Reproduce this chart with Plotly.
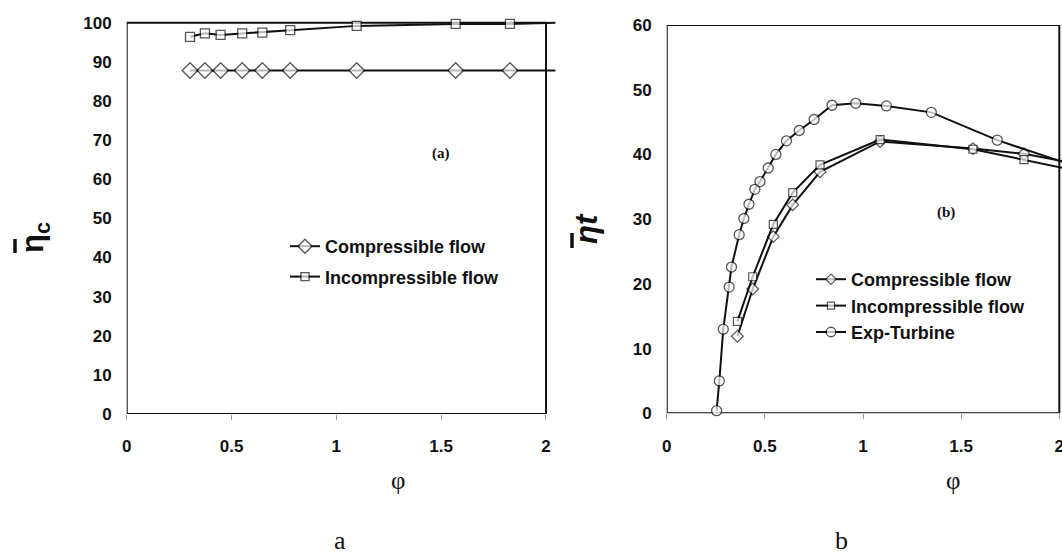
import plotly.graph_objects as go

# ---- Panel (a): compressor efficiency ----
phi_a = [0.302, 0.373, 0.448, 0.551, 0.647, 0.780, 1.097, 1.569, 1.828, 2.1]
eta_c_comp = [87.8, 87.8, 87.8, 87.8, 87.8, 87.8, 87.8, 87.8, 87.8, 87.8]
eta_c_incomp = [96.4, 97.3, 96.9, 97.3, 97.5, 98.1, 99.2, 99.7, 99.7, 100.1]

# ---- Panel (b): turbine efficiency ----
phi_b = [0.360, 0.438, 0.543, 0.642, 0.781, 1.087, 1.56, 1.82, 2.1]
eta_t_comp = [11.9, 19.2, 27.3, 32.2, 37.3, 42.0, 40.9, 40.1, 38.5]
eta_t_incomp = [14.2, 21.1, 29.2, 34.1, 38.4, 42.3, 40.8, 39.2, 37.4]
phi_exp = [0.254, 0.268, 0.288, 0.318, 0.330, 0.369, 0.393, 0.419, 0.449, 0.475,
           0.517, 0.556, 0.610, 0.675, 0.751, 0.842, 0.963, 1.119, 1.348, 1.684, 2.1]
eta_t_exp = [0.4, 5.0, 13.0, 19.5, 22.6, 27.6, 30.1, 32.3, 34.6, 35.8,
             37.9, 40.0, 42.1, 43.7, 45.4, 47.6, 47.9, 47.5, 46.5, 42.2, 38.0]

x_ticks = [0, 0.5, 1, 1.5, 2]
x_tick_text = ["0", "0.5", "1", "1.5", "2"]
ya_ticks = [0, 10, 20, 30, 40, 50, 60, 70, 80, 90, 100]
yb_ticks = [0, 10, 20, 30, 40, 50, 60]

BLACK = "#111111"
FONT = "Liberation Sans"
W, H = 1062, 554


def sizes(n_visible, s):
    # last point is an off-frame continuation, drawn without a marker
    return [s] * n_visible + [0]


fig = go.Figure()

fig.add_trace(go.Scatter(
    x=phi_a, y=eta_c_comp, mode="lines+markers", name="Compressible flow",
    line=dict(color=BLACK, width=2), legendgroup="a1",
    marker=dict(symbol="diamond", size=sizes(len(phi_a) - 1, 12), color="white",
                line=dict(color=BLACK, width=1.3)),
    cliponaxis=False, xaxis="x", yaxis="y", legend="legend"))
fig.add_trace(go.Scatter(
    x=phi_a, y=eta_c_incomp, mode="lines+markers", name="Incompressible flow",
    line=dict(color=BLACK, width=2), legendgroup="a2",
    marker=dict(symbol="square", size=sizes(len(phi_a) - 1, 9), color="white",
                line=dict(color=BLACK, width=1.3)),
    cliponaxis=False, xaxis="x", yaxis="y", legend="legend"))

fig.add_trace(go.Scatter(
    x=phi_b, y=eta_t_comp, mode="lines+markers", name="Compressible flow",
    line=dict(color=BLACK, width=2),
    marker=dict(symbol="diamond", size=sizes(len(phi_b) - 1, 9), color="white",
                line=dict(color=BLACK, width=1.2)),
    cliponaxis=False, xaxis="x2", yaxis="y2", legend="legend2"))
fig.add_trace(go.Scatter(
    x=phi_b, y=eta_t_incomp, mode="lines+markers", name="Incompressible flow",
    line=dict(color=BLACK, width=2),
    marker=dict(symbol="square", size=sizes(len(phi_b) - 1, 8), color="white",
                line=dict(color=BLACK, width=1.2)),
    cliponaxis=False, xaxis="x2", yaxis="y2", legend="legend2"))
fig.add_trace(go.Scatter(
    x=phi_exp, y=eta_t_exp, mode="lines+markers", name="Exp-Turbine",
    line=dict(color=BLACK, width=2),
    marker=dict(symbol="circle", size=sizes(len(phi_exp) - 1, 10), color="white",
                line=dict(color=BLACK, width=1.3)),
    cliponaxis=False, xaxis="x2", yaxis="y2", legend="legend2"))

tick_font = dict(family=FONT, size=17, color=BLACK, weight="bold")
common_x = dict(tickmode="array", tickvals=x_ticks, ticktext=x_tick_text,
                showgrid=False, zeroline=False, showline=False,
                ticks="outside", ticklen=5, tickwidth=1, tickcolor="#999999",
                tickfont=tick_font, ticklabelstandoff=12, fixedrange=True,
                ticklabeloverflow="allow")
common_y = dict(showgrid=False, zeroline=False, showline=False, ticks="",
                tickfont=tick_font, ticklabelstandoff=14, fixedrange=True)

fig.update_layout(
    width=W, height=H, autosize=False,
    margin=dict(l=0, r=0, t=0, b=0, pad=0, autoexpand=False),
    paper_bgcolor="white", plot_bgcolor="white",
    xaxis=dict(domain=[0.1193, 0.5230], range=[0, 2.045], anchor="y", **common_x),
    yaxis=dict(domain=[0.2527, 0.966], range=[0, 101], anchor="x",
               tickmode="array", tickvals=ya_ticks, **common_y),
    xaxis2=dict(domain=[0.6278, 1.0], range=[0, 2.0137], anchor="y2", **common_x),
    yaxis2=dict(domain=[0.2540, 0.9549], range=[0, 60], anchor="x2",
                tickmode="array", tickvals=yb_ticks, **common_y),
    legend=dict(x=285 / W, y=(H - 228) / H, xanchor="left", yanchor="top",
                bgcolor="rgba(0,0,0,0)", tracegroupgap=4,
                font=dict(family=FONT, size=18, color=BLACK, weight="bold")),
    legend2=dict(x=811 / W, y=(H - 261) / H, xanchor="left", yanchor="top",
                 bgcolor="rgba(0,0,0,0)",
                 font=dict(family=FONT, size=18, color=BLACK, weight="bold")),
    showlegend=True,
)

# frames (plot boxes from 0..2 in phi)
fig.add_shape(type="rect", xref="x", yref="y", x0=0, x1=2, y0=0, y1=100,
              line=dict(color=BLACK, width=2), layer="below")
fig.add_shape(type="rect", xref="x2", yref="y2", x0=0, x1=2, y0=0, y1=60,
              line=dict(color=BLACK, width=2), layer="below")

# overbars of the eta symbols in the (rotated) axis titles
for bx, by0, by1 in ((15, 239, 253), (572, 233, 248)):
    fig.add_shape(type="line", xref="paper", yref="paper",
                  x0=bx / W, x1=bx / W, y0=(H - by0) / H, y1=(H - by1) / H,
                  line=dict(color=BLACK, width=3.5))


def txt(text, xc, yc, family, size, angle=0):
    return dict(text=text, xref="paper", yref="paper", x=xc / W, y=(H - yc) / H,
                xanchor="center", yanchor="middle", showarrow=False, textangle=angle,
                font=dict(family=family, size=size, color=BLACK))


ann = [
    txt("<b>\u03b7<sub>c</sub></b>", 35, 238, FONT, 31, -90),
    txt("<b><i>\u03b7t</i></b>", 586, 229, FONT, 31, -90),
    txt("\u03c6", 398, 480, "Liberation Serif", 25),
    txt("\u03c6", 953, 480, "Liberation Serif", 25),
    txt("a", 340, 540, "Liberation Serif", 26),
    txt("b", 841, 540, "Liberation Serif", 26),
    txt("<b>(a)</b>", 441, 154, "Liberation Serif", 15),
    txt("<b>(b)</b>", 946, 212, "Liberation Serif", 15),
]
fig.update_layout(annotations=ann)

fig.write_html(
    "out.html",
    config={"responsive": False, "displayModeBar": False},
    post_script="document.body.style.margin='0';document.body.style.padding='0';"
                "document.documentElement.style.overflow='hidden';",
)
